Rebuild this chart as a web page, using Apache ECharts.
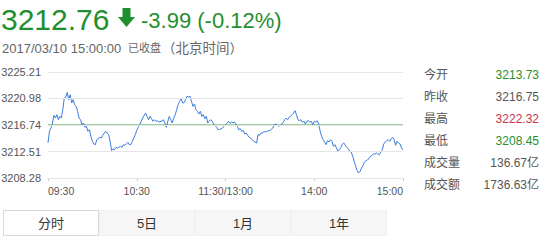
<!DOCTYPE html>
<html><head><meta charset="utf-8">
<script src="https://cdn.jsdelivr.net/npm/echarts@6/dist/echarts.min.js"></script>
<style>html,body{margin:0;padding:0;background:#fff}#c{width:546px;height:248px}</style>
</head><body><div id="c"></div>
<script>
// ---- data ----
const lastPrice = '3212.76';
const changeText = '-3.99 (-0.12%)';
const tradeTime = '2017/03/10 15:00:00';
const statusText = '已收盘';
const zoneText = '（北京时间）';
const prevClose = 3216.75;

const yTicks = [3208.28, 3212.5125, 3216.745, 3220.9775, 3225.21];
const yTickLabels = ['3208.28', '3212.51', '3216.74', '3220.98', '3225.21'];
const xTicks = ['09:30', '10:30', '11:30', '14:00', '15:00'];
const xTickLabels = ['09:30', '10:30', '11:30/13:00', '14:00', '15:00'];

const panelLabels = ['今开', '昨收', '最高', '最低', '成交量', '成交额'];
const panelValues = ['3213.73', '3216.75', '3222.32', '3208.45', '136.67亿', '1736.63亿'];
const panelIsPrice = [true, false, true, true, false, false];

const tabLabels = ['分时', '5日', '1月', '1年'];

// minute index (0 = 09:30, 120 = 11:30/13:00, 240 = 15:00)
const minuteIdx = [
  0,1,2,3,4,5,6,7,8,9,10,11,12,13,14,15,16,17,18,19,20,21,22,23,24,25,26,27,28,29,30,31,32,33,35,36,37,39,40,41,42,43,44,45,46,47,49,50,51,52,54,55,56,57,59,60,
  61,62,63,64,66,67,68,69,70,71,72,73,74,75,77,78,79,80,81,82,83,84,85,86,87,88,89,90,91,92,93,94,95,96,97,98,99,100,101,102,103,104,105,106,107,108,109,110,111,112,114,115,116,118,119,120,
  121,122,123,124,125,126,127,128,129,130,131,132,133,134,135,136,137,138,139,140,141,142,143,144,145,146,147,148,149,150,151,152,153,154,155,156,157,158,159,160,161,162,163,164,165,166,167,168,169,170,171,172,173,174,175,176,177,178,179,180,181,182,
  183,184,185,186,187,188,189,190,191,192,193,194,195,196,197,198,199,200,201,202,203,204,205,206,207,208,209,210,211,212,213,214,215,216,217,218,219,220,221,222,223,224,225,226,227,228,229,230,231,232,233,234,235,236,237,238,239,240
];
const prices = [
  3213.90,3215.74,3216.27,3217.06,3218.29,3217.86,3218.39,3217.59,3218.13,3217.86,3219.19,3221.06,3221.17,3221.95,3220.79,3221.58,3220.26,3220.79,3219.99,3219.73,3218.93,3217.86,3217.59,3216.79,3217.06,3216.38,3216.54,3215.74,3215.99,3214.94,3214.14,3213.71,3213.60,3214.40,3214.78,3214.67,3215.10,3215.74,3215.47,3215.20,3214.14,3212.64,3212.91,3212.80,3213.18,3213.07,3213.34,3213.18,3213.60,3213.50,3213.98,3213.60,3213.62,3214.14,3215.20,3215.90,
  3216.38,3216.79,3217.34,3217.86,3218.66,3218.13,3217.59,3218.13,3217.75,3217.34,3217.59,3217.34,3217.43,3217.22,3217.34,3217.59,3217.06,3216.38,3217.34,3218.13,3217.59,3217.06,3217.86,3218.39,3219.19,3219.99,3220.53,3220.95,3220.26,3220.30,3220.79,3221.33,3221.25,3221.35,3220.53,3219.73,3220.10,3219.19,3218.93,3218.50,3218.93,3218.13,3218.39,3217.75,3218.13,3217.06,3217.34,3217.59,3217.34,3216.90,3216.38,3215.99,3216.02,3216.27,3216.54,3216.79,
  3217.00,3217.34,3217.02,3217.22,3217.11,3217.22,3216.90,3216.54,3215.99,3216.15,3215.74,3215.83,3215.31,3215.47,3215.10,3214.78,3214.67,3214.40,3214.14,3214.03,3213.87,3215.20,3215.10,3215.47,3215.45,3215.74,3215.63,3215.74,3215.83,3215.85,3216.06,3216.27,3216.79,3216.90,3216.70,3216.54,3216.70,3216.90,3217.18,3217.59,3217.86,3217.59,3217.97,3218.13,3218.39,3218.66,3219.03,3218.39,3217.59,3217.43,3217.59,3217.18,3217.34,3216.90,3217.34,3217.43,3217.22,3217.34,3216.79,3217.34,3217.22,3217.43,
  3216.90,3215.74,3214.94,3214.40,3214.03,3213.60,3214.24,3214.03,3214.40,3214.14,3213.34,3213.60,3213.07,3212.54,3212.80,3213.18,3213.71,3213.87,3213.50,3213.18,3212.96,3212.54,3212.43,3211.75,3210.95,3210.15,3209.45,3209.08,3209.35,3209.88,3210.31,3210.84,3211.04,3211.20,3211.36,3211.75,3211.91,3212.11,3212.10,3212.27,3212.11,3212.00,3212.43,3212.80,3213.71,3214.03,3214.24,3214.40,3214.14,3214.56,3214.78,3214.40,3213.50,3214.14,3213.87,3213.71,3213.07,3212.76
];

// ---- build ----
function hhmm(t) { const h = Math.floor(t / 60), m = t % 60; return (h < 10 ? '0' : '') + h + ':' + (m < 10 ? '0' : '') + m; }
const times = [];
for (let i = 0; i <= 120; i++) times.push(hhmm(570 + i));
for (let i = 1; i <= 120; i++) times.push(hhmm(780 + i));

const FONT = "'Liberation Sans','Noto Sans CJK SC',sans-serif";
const GREEN = '#1f8f2e', RED = '#c8324e', GRAY = '#555';

const graphic = [
  { type: 'text', x: 1, y: 19.5, style: { text: lastPrice, font: '30px ' + FONT, fill: GREEN, align: 'left', verticalAlign: 'middle' } },
  { type: 'polygon', shape: { points: [[122.5, 8], [130.5, 8], [130.5, 17], [135, 17], [126.5, 27], [118, 17], [122.5, 17]] }, style: { fill: GREEN } },
  { type: 'text', x: 141, y: 20.5, style: { text: changeText, font: '22px ' + FONT, fill: GREEN, align: 'left', verticalAlign: 'middle' } },
  { type: 'text', x: 2, y: 48, style: { text: tradeTime, font: '13px ' + FONT, fill: '#666', align: 'left', verticalAlign: 'middle' } },
  { type: 'text', x: 128, y: 48, style: { text: statusText, font: '11px ' + FONT, fill: '#666', align: 'left', verticalAlign: 'middle' } },
  { type: 'text', x: 162, y: 48, style: { text: zoneText, font: '13.5px ' + FONT, fill: '#666', align: 'left', verticalAlign: 'middle' } }
];
panelLabels.forEach((lab, i) => {
  const y = 74.5 + i * 22;
  let col = GRAY;
  if (panelIsPrice[i]) { const v = parseFloat(panelValues[i]); col = v > prevClose ? RED : (v < prevClose ? GREEN : GRAY); }
  graphic.push({ type: 'text', x: 424, y: y, style: { text: lab, font: '12px ' + FONT, fill: GRAY, align: 'left', verticalAlign: 'middle' } });
  graphic.push({ type: 'text', x: 539, y: y, style: { text: panelValues[i], font: '12px ' + FONT, fill: col, align: 'right', verticalAlign: 'middle' } });
});
tabLabels.forEach((lab, i) => {
  const x = 3 + i * 96;
  graphic.push({ type: 'rect', shape: { x: x + 0.5, y: 210.5, width: 95, height: 25 }, style: { fill: i === 0 ? '#fff' : '#f6f6f6', stroke: i === 0 ? '#d8d8d8' : '#f0f0f0', lineWidth: 1 } });
  graphic.push({ type: 'text', x: x + 48, y: 223, style: { text: lab, font: '13px ' + FONT, fill: '#333', align: 'center', verticalAlign: 'middle' } });
});

const gridLines = yTicks.map((v, i) => ({
  yAxis: v,
  label: { show: true, position: 'start', distance: 7, formatter: yTickLabels[i], color: GRAY, fontSize: 11, fontFamily: FONT }
}));

const chart = echarts.init(document.getElementById('c'), null, { renderer: 'svg' });
chart.setOption({
  animation: false,
  backgroundColor: '#fff',
  grid: { left: 48, right: 143, top: 72, bottom: 70, containLabel: false },
  xAxis: {
    type: 'category', data: times, boundaryGap: false,
    axisLine: { lineStyle: { color: '#ddd' } },
    axisTick: { show: true, length: 3, lineStyle: { color: '#ccc' }, interval: (idx, val) => xTicks.includes(val) },
    axisLabel: {
      interval: (idx, val) => xTicks.includes(val),
      formatter: (val) => xTickLabels[xTicks.indexOf(val)],
      color: GRAY, fontSize: 10.5, fontFamily: FONT, margin: 8,
      alignMinLabel: 'left', alignMaxLabel: 'right'
    },
    splitLine: { show: false }
  },
  yAxis: {
    type: 'value', min: yTicks[0], max: yTicks[yTicks.length - 1], scale: true,
    axisLine: { show: false }, axisTick: { show: false }, axisLabel: { show: false }, splitLine: { show: false }
  },
  graphic: graphic,
  series: [{
    name: 'grid', type: 'line', data: [], silent: true,
    markLine: { silent: true, symbol: ['none', 'none'], animation: false,
      lineStyle: { color: '#e6e6e6', width: 1, type: 'solid' },
      emphasis: { disabled: true },
      data: gridLines },
    z: 1
  }, {
    name: 'prevClose', type: 'line', silent: true,
    data: [[0, prevClose], [times.length - 1, prevClose]],
    showSymbol: false, symbol: 'none',
    lineStyle: { color: '#4caa4c', width: 1 },
    itemStyle: { color: '#4caa4c' },
    z: 2
  }, {
    name: 'price', type: 'line',
    data: minuteIdx.map((m, i) => [m, prices[i]]),
    showSymbol: false, symbol: 'none',
    lineStyle: { color: '#3b7de0', width: 1 },
    itemStyle: { color: '#3b7de0' },
    z: 3
  }]
});
</script></body></html>
